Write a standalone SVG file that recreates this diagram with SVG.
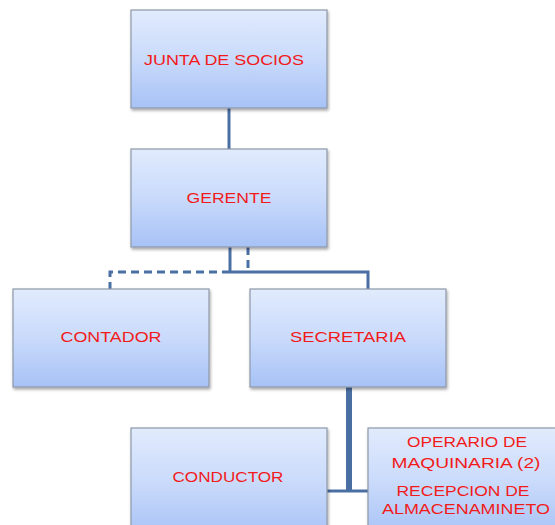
<svg xmlns="http://www.w3.org/2000/svg" width="555" height="525" viewBox="0 0 555 525">
  <defs>
    <linearGradient id="boxFill" x1="0" y1="0" x2="0" y2="1">
      <stop offset="0" stop-color="#e1ebfd"/>
      <stop offset="0.5" stop-color="#c9dafb"/>
      <stop offset="1" stop-color="#a7c2f6"/>
    </linearGradient>
    <filter id="shadow" x="-10%" y="-10%" width="120%" height="125%">
      <feGaussianBlur in="SourceAlpha" stdDeviation="1.5"/>
      <feOffset dx="1" dy="2" result="b"/>
      <feComponentTransfer><feFuncA type="linear" slope="0.35"/></feComponentTransfer>
      <feMerge><feMergeNode/><feMergeNode in="SourceGraphic"/></feMerge>
    </filter>
  </defs>
  <style>
    .box { fill: url(#boxFill); stroke: #8e98a8; stroke-width: 1.2; filter: url(#shadow); }
    .lbl { font-family: "Liberation Sans", "DejaVu Sans", sans-serif; font-size: 14px; fill: #f21b1b; text-anchor: middle; }
    .link { fill: none; stroke: #4a6fa3; stroke-width: 3; }
    .dash { stroke-dasharray: 8 5; }
  </style>
  <rect width="555" height="525" fill="#ffffff"/>

  <g id="connectors">
    <line class="link" x1="229" y1="108" x2="229" y2="149"/>
    <line class="link" x1="230" y1="247" x2="230" y2="272"/>
    <line class="link dash" x1="248" y1="247" x2="248" y2="272"/>
    <polyline class="link dash" points="230,272 110,272 110,289"/>
    <polyline class="link" points="230,272 368,272 368,289"/>
    <line class="link" x1="349" y1="387" x2="349" y2="492" style="stroke-width:6"/>
    <line class="link" x1="327" y1="491" x2="368" y2="491"/>
  </g>

  <g id="junta">
    <rect class="box" x="131" y="10" width="196" height="98"/>
    <text class="lbl" x="224" y="65" textLength="160" lengthAdjust="spacingAndGlyphs">JUNTA DE SOCIOS</text>
  </g>
  <g id="gerente">
    <rect class="box" x="131" y="149" width="196" height="98"/>
    <text class="lbl" x="229" y="203" textLength="85" lengthAdjust="spacingAndGlyphs">GERENTE</text>
  </g>
  <g id="contador">
    <rect class="box" x="13" y="289" width="196" height="98"/>
    <text class="lbl" x="111" y="342" textLength="101" lengthAdjust="spacingAndGlyphs">CONTADOR</text>
  </g>
  <g id="secretaria">
    <rect class="box" x="250" y="289" width="196" height="98"/>
    <text class="lbl" x="348" y="342" textLength="116" lengthAdjust="spacingAndGlyphs">SECRETARIA</text>
  </g>
  <g id="conductor">
    <rect class="box" x="131" y="428" width="196" height="110"/>
    <text class="lbl" x="228" y="482" textLength="111" lengthAdjust="spacingAndGlyphs">CONDUCTOR</text>
  </g>
  <g id="operario">
    <rect class="box" x="368" y="428" width="196" height="110"/>
    <text class="lbl" x="467" y="447" textLength="120" lengthAdjust="spacingAndGlyphs">OPERARIO DE</text>
    <text class="lbl" x="466" y="468" textLength="149" lengthAdjust="spacingAndGlyphs">MAQUINARIA  (2)</text>
    <text class="lbl" x="463" y="496" textLength="133" lengthAdjust="spacingAndGlyphs">RECEPCION DE</text>
    <text class="lbl" x="466" y="514" textLength="168" lengthAdjust="spacingAndGlyphs">ALMACENAMINETO</text>
  </g>
</svg>
